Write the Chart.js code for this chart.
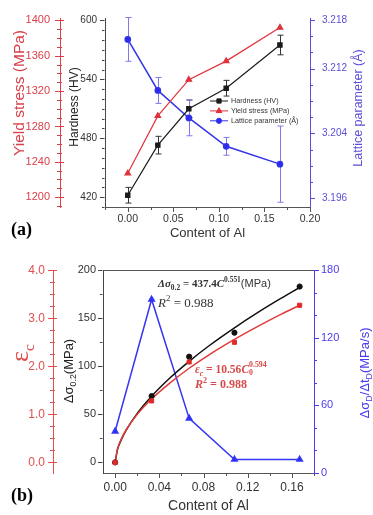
<!DOCTYPE html>
<html>
<head>
<meta charset="utf-8">
<script src="https://cdn.jsdelivr.net/npm/chart.js@4.4.1/dist/chart.umd.min.js"></script>
<style>
body{margin:0;background:#fff;}
#page{position:relative;width:373px;height:515px;overflow:hidden;font-family:"Liberation Sans",Arial,sans-serif;}
canvas{position:absolute;left:0;}
#chartA{top:0}
#chartB{top:255px}
.t{position:absolute;white-space:nowrap;line-height:1;}
.v{transform:translate(-50%,-50%) rotate(-90deg);}
.h{transform:translateY(-50%);}
.serif{font-family:"Liberation Serif","Times New Roman",serif;}
.sans{font-family:"Liberation Sans",Arial,sans-serif;font-weight:normal;}
sub,sup{font-size:68%;line-height:0;}
.stack{display:inline-block;vertical-align:-0.32em;font-size:68%;line-height:1.05;}
.stack span{display:block;}
</style>
</head>
<body>
<div id="page">
<canvas id="chartA" width="373" height="245"></canvas>
<canvas id="chartB" width="373" height="260"></canvas>

<div class="t serif h" style="left:11px;top:229px;font-size:18px;font-weight:bold">(a)</div>
<div class="t v" style="left:19px;top:93px;font-size:15.5px;color:#d9404a">Yield stress (MPa)</div>
<div class="t v" style="left:74px;top:107px;font-size:12px;color:#222">Hardness (HV)</div>
<div class="t v" style="left:358px;top:108px;font-size:12.5px;color:#5a4fd6">Lattice parameter (Å)</div>

<div class="t serif h" style="left:11px;top:495px;font-size:18px;font-weight:bold">(b)</div>
<div class="t v serif" style="left:20px;top:353px;font-size:26px;color:#e04848">ε<sub style="font-size:60%">c</sub></div>
<div class="t v" style="left:68px;top:371px;font-size:13px;color:#222">Δσ<sub>0.2</sub>(MPa)</div>
<div class="t v" style="left:364px;top:373px;font-size:13px;color:#4a3af0">Δσ<sub>D</sub>/Δt<sub>D</sub>(MPa/s)</div>

<div class="t serif h" style="left:158px;top:283px;font-size:11px;font-weight:bold;color:#333"><i>Δσ</i><sub>0.2</sub> = 437.4<i>C</i><sup>0.551</sup><span class="sans" style="font-size:11px">(MPa)</span></div>
<div class="t serif h" style="left:158px;top:302px;font-size:13px;color:#333"><i>R</i><sup>2</sup> = 0.988</div>
<div class="t serif h" style="left:195px;top:369px;font-size:11.5px;font-weight:bold;color:#d94a4a"><i>ε<sub>c</sub></i> = 10.56<i>C</i><span class="stack"><span>0.594</span><span>0</span></span></div>
<div class="t serif h" style="left:195px;top:384px;font-size:12px;font-weight:bold;color:#d94a4a"><i>R</i><sup>2</sup> = 0.988</div>
</div>

<script>
// panel (a)
const alContent=[0,0.033,0.067,0.108,0.167]
const hardness=[422,473,510,531,575]
const hardnessErr=[8,9,9,8,10]
const yieldStress=[1227,1292,1333,1354,1392]
const lattice=[3.2156,3.2093,3.2059,3.2024,3.2002]
const latticeErr=[0.0027,0.0016,0.0022,0.0011,0.0047]

const xTicksA=[0,0.05,0.10,0.15,0.20]
const hardTicks=[420,480,540,600]
const yieldTicks=[1200,1240,1280,1320,1360,1400]
const latticeTicks=[3.196,3.204,3.212,3.218]

// panel (b)
const dSigma=[0,69,110,135,183]
const epsC=[0,1.28,2.09,2.50,3.27]
const rate=[37,154,48.5,12,12]

// fitted curves
const fitAl=[0,0.002,0.005,0.01,0.02,0.033,0.05,0.067,0.085,0.108,0.13,0.15,0.167]
const dSigmaFit=[0,12.8,22.2,33.6,51,68.8,88.3,105.2,121.4,140.1,156.6,170.6,182]
const epsFit=[0,0.27,0.46,0.68,1.0,1.32,1.66,1.96,2.24,2.56,2.84,3.08,3.27]

const xTicksB=[0,0.04,0.08,0.12,0.16]
const dsTicks=[0,50,100,150,200]
const epsTicks=[0,1,2,3,4]
const rateTicks=[0,60,120,180]

Chart.defaults.font.family="'Liberation Sans', Arial, sans-serif"
Chart.defaults.animation=false

const pts=(xs,ys)=>xs.map((x,i)=>({x:x,y:ys[i]}))

function yAxis(o){
return{
type:"linear",position:o.pos,weight:o.weight||0,min:o.min,max:o.max,
afterBuildTicks:s=>{s.ticks=o.ticks.map(v=>({value:v}))},
afterFit:s=>{s.width=o.width},
ticks:{autoSkip:false,padding:o.pad,color:o.color,font:{size:o.size},callback:v=>o.fmt(v)},
grid:{drawOnChartArea:false,drawTicks:false},
border:{display:true,color:o.line,width:1},
title:{display:false}
}
}

function xAxis(o){
return{
type:"linear",position:"bottom",min:o.min,max:o.max,
afterBuildTicks:s=>{s.ticks=o.ticks.map(v=>({value:v}))},
afterFit:s=>{s.height=o.height},
ticks:{autoSkip:false,maxRotation:0,padding:o.pad,color:"#333",font:{size:o.size},callback:v=>v.toFixed(2)},
grid:{drawOnChartArea:false,drawTicks:false},
border:{display:true,color:"#555",width:1},
title:{display:true,text:"Content of Al",color:"#333",font:{size:o.titleSize},padding:o.titlePad}
}
}

// major + minor tick marks drawn through each scale
function tickMarks(axes,topLine){
return{
id:"tickMarks",
afterDraw(chart){
const ctx=chart.ctx
ctx.save()
ctx.lineWidth=1
axes.forEach(a=>{
const s=chart.scales[a.id]
const horiz=s.isHorizontal()
const base=horiz?s.top:(s.position==="left"?s.right:s.left)
const dir=horiz?1:(s.position==="left"?-1:1)
ctx.strokeStyle=a.color
const mark=(v,len)=>{
const p=Math.round(s.getPixelForValue(v))+0.5
const b=Math.round(base)+(dir<0?-0.5:0.5)
const from=a.cross?b-dir*len:b
const to=b+dir*len
ctx.beginPath()
if(horiz){ctx.moveTo(p,from);ctx.lineTo(p,to)}
else{ctx.moveTo(from,p);ctx.lineTo(to,p)}
ctx.stroke()
}
for(let k=0;k<500;k++){
const v=a.start+k*a.minor
if(v>s.max+1e-9) break
if(v<s.min-1e-9) continue
if(a.majors.some(m=>Math.abs(m-v)<a.minor*0.3)) continue
mark(v,2.5)
}
a.majors.forEach(v=>mark(v,4.5))
})
if(topLine){
const ca=chart.chartArea
ctx.strokeStyle=topLine
ctx.beginPath()
ctx.moveTo(ca.left,Math.round(ca.top)+0.5)
ctx.lineTo(ca.right,Math.round(ca.top)+0.5)
ctx.stroke()
}
ctx.restore()
}
}
}

const errorBars={
id:"errorBars",
beforeDatasetsDraw(chart){
const ctx=chart.ctx
chart.data.datasets.forEach((ds,i)=>{
if(!ds.errors) return
const meta=chart.getDatasetMeta(i)
const ys=chart.scales[ds.yAxisID]
ctx.save()
ctx.strokeStyle=ds.errorColor
ctx.lineWidth=1
meta.data.forEach((pt,j)=>{
const v=ds.data[j].y,e=ds.errors[j]
const y1=ys.getPixelForValue(v+e),y2=ys.getPixelForValue(v-e)
const x=Math.round(pt.x)+0.5
ctx.beginPath()
ctx.moveTo(x,y1);ctx.lineTo(x,y2)
ctx.moveTo(x-3,y1);ctx.lineTo(x+3,y1)
ctx.moveTo(x-3,y2);ctx.lineTo(x+3,y2)
ctx.stroke()
})
ctx.restore()
})
}
}

const insideLegend={
id:"insideLegend",
afterDraw(chart,args,opts){
const ctx=chart.ctx
ctx.save()
ctx.font=opts.font
ctx.textBaseline="middle"
chart.data.datasets.forEach((ds,i)=>{
const y=opts.y+i*opts.gap
ctx.strokeStyle=ds.borderColor
ctx.fillStyle=ds.backgroundColor
ctx.lineWidth=1
ctx.beginPath()
ctx.moveTo(opts.x,y);ctx.lineTo(opts.x+opts.len,y)
ctx.stroke()
Chart.helpers.drawPoint(ctx,{pointStyle:ds.pointStyle,radius:ds.pointRadius,rotation:0,borderWidth:1},opts.x+opts.len/2,y)
ctx.fillStyle=opts.color
ctx.fillText(ds.label,opts.x+opts.len+3,y+0.5)
})
ctx.restore()
}
}

new Chart(document.getElementById("chartA"),{
type:"line",
data:{datasets:[
{label:"Hardness (HV)",data:pts(alContent,hardness),yAxisID:"hard",borderColor:"#1a1a1a",backgroundColor:"#1a1a1a",borderWidth:1.2,pointStyle:"rect",pointRadius:3,errors:hardnessErr,errorColor:"#333"},
{label:"Yield stress (MPa)",data:pts(alContent,yieldStress),yAxisID:"yield",borderColor:"#e0323c",backgroundColor:"#e0323c",borderWidth:1.2,pointStyle:"triangle",pointRadius:3.2},
{label:"Lattice parameter (Å)",data:pts(alContent,lattice),yAxisID:"latt",borderColor:"#3434e6",backgroundColor:"#2a2af0",borderWidth:1.5,pointStyle:"circle",pointRadius:2.6,errors:latticeErr,errorColor:"#7f78ea"}
]},
options:{
responsive:false,
layout:{padding:{top:15,left:0,right:0,bottom:0}},
plugins:{
legend:{display:false},tooltip:{enabled:false},
insideLegend:{x:210,y:101,gap:9.9,len:18,font:"7.2px 'Liberation Sans', Arial, sans-serif",color:"#333"}
},
scales:{
x:xAxis({min:-0.025,max:0.2,ticks:xTicksA,height:38,pad:6,size:10.5,titleSize:13,titlePad:{top:0,bottom:4}}),
hard:yAxis({pos:"left",weight:0,min:410,max:602.5,ticks:hardTicks,width:45,pad:8,color:"#333",size:10,line:"#444",fmt:v=>String(v)}),
yield:yAxis({pos:"left",weight:1,min:1188.86,max:1402.79,ticks:yieldTicks,width:60,pad:10,color:"#d9404a",size:11,line:"#d9404a",fmt:v=>String(v)}),
latt:yAxis({pos:"right",min:3.19491,max:3.21824,ticks:latticeTicks,width:63,pad:12,color:"#5a4fd6",size:10,line:"#5a4fd6",fmt:v=>v.toFixed(3)})
}
},
plugins:[errorBars,insideLegend,tickMarks([
{id:"x",start:-0.025,minor:0.025,majors:xTicksA,color:"#555"},
{id:"hard",start:410,minor:10,majors:hardTicks,color:"#444"},
{id:"yield",start:1190,minor:10,majors:yieldTicks,color:"#d9404a",cross:true},
{id:"latt",start:3.196,minor:0.002,majors:latticeTicks,color:"#5a4fd6"}
])]
})

new Chart(document.getElementById("chartB"),{
type:"line",
data:{datasets:[
{label:"fit dSigma",data:pts(fitAl,dSigmaFit),yAxisID:"ds",borderColor:"#111",borderWidth:1.5,pointRadius:0,cubicInterpolationMode:"monotone",order:3},
{label:"fit eps",data:pts(fitAl,epsFit),yAxisID:"eps",borderColor:"#e03a3a",borderWidth:1.5,pointRadius:0,cubicInterpolationMode:"monotone",order:2},
{label:"rate",data:pts(alContent,rate),yAxisID:"rate",borderColor:"#3535f5",backgroundColor:"#2b2bf5",borderWidth:1.5,pointStyle:"triangle",pointRadius:3.2,order:4},
{label:"dSigma",data:pts(alContent,dSigma),yAxisID:"ds",showLine:false,backgroundColor:"#111",borderColor:"#111",pointStyle:"circle",pointRadius:2.6,order:1},
{label:"eps",data:pts(alContent,epsC),yAxisID:"eps",showLine:false,backgroundColor:"#e02a2a",borderColor:"#e02a2a",pointStyle:"rect",pointRadius:2.9,order:0}
]},
options:{
responsive:false,
layout:{padding:{top:15,left:0,right:0,bottom:0}},
plugins:{legend:{display:false},tooltip:{enabled:false}},
scales:{
x:xAxis({min:-0.011,max:0.18,ticks:xTicksB,height:42,pad:7,size:12,titleSize:14,titlePad:{top:0,bottom:0}}),
ds:yAxis({pos:"left",weight:0,min:-11,max:200,ticks:dsTicks,width:50,pad:7,color:"#333",size:11,line:"#444",fmt:v=>String(v)}),
eps:yAxis({pos:"left",weight:1,min:-0.22,max:4.0,ticks:epsTicks,width:53,pad:8,color:"#e05050",size:12,line:"#e05050",fmt:v=>v.toFixed(1)}),
rate:yAxis({pos:"right",min:0,max:180,ticks:rateTicks,width:59,pad:7,color:"#4a3af0",size:11,line:"#4a3af0",fmt:v=>String(v)})
}
},
plugins:[tickMarks([
{id:"x",start:0,minor:0.02,majors:xTicksB,color:"#555"},
{id:"ds",start:0,minor:25,majors:dsTicks,color:"#444"},
{id:"eps",start:0,minor:0.25,majors:epsTicks,color:"#e05050",cross:true},
{id:"rate",start:0,minor:20,majors:rateTicks,color:"#4a3af0"}
],"#555")]
})
</script>
</body>
</html>
